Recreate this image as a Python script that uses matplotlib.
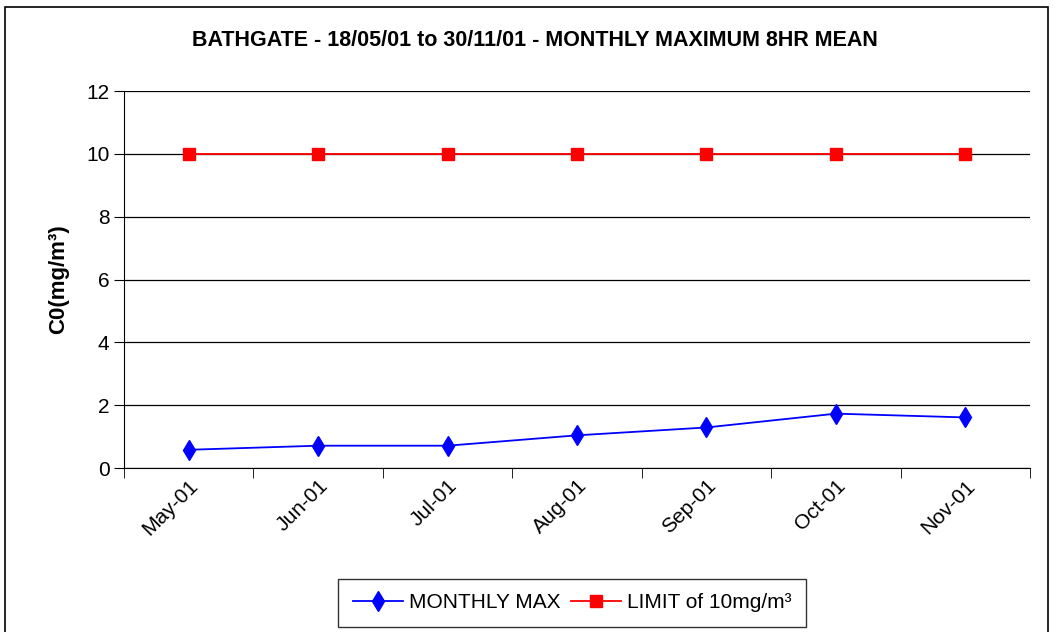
import numpy as np
import matplotlib.pyplot as plt
from matplotlib.patches import Rectangle

plt.rcParams['font.family'] = ['Liberation Sans', 'DejaVu Sans']

months = ["May-01", "Jun-01", "Jul-01", "Aug-01", "Sep-01", "Oct-01", "Nov-01"]
monthly_max = [0.58, 0.71, 0.71, 1.04, 1.29, 1.73, 1.61]
limit = [10, 10, 10, 10, 10, 10, 10]

fig = plt.figure(figsize=(10.54, 6.32), dpi=100)
fig.patches.append(Rectangle((5/1054, -0.01), 1043/1054, 1 - 7/632 + 0.01,
                             transform=fig.transFigure, fill=False,
                             edgecolor='black', linewidth=1.2))
ax = fig.add_axes([124/1054, (632-468)/632, (1030-124)/1054, (468-91)/632])

x = np.arange(len(months))
ax.plot(x, monthly_max, color='#0000ff', marker='d', markersize=10, linewidth=1.3,
        label='MONTHLY MAX')
ax.plot(x, limit, color='#ff0000', marker='s', markersize=8, linewidth=1.3,
        label='LIMIT of 10mg/m³')

ax.set_xlim(-0.5, len(months) - 0.5)
ax.set_ylim(0, 12)
ax.set_yticks(range(0, 13, 2))
ax.set_xticks(x)
ax.set_xticklabels(months, rotation=45, ha='right', rotation_mode='anchor', fontsize=15)
ax.tick_params(axis='x', length=0, pad=6)
ax.set_xticks(np.arange(-0.5, len(months), 1), minor=True)
ax.tick_params(axis='x', which='minor', length=7, color='black')
ax.tick_params(axis='y', labelsize=15, length=7, color='black')
ax.grid(axis='y', color='black', linewidth=0.9)
ax.set_axisbelow(True)
for s in ['top', 'right']:
    ax.spines[s].set_visible(False)
ax.spines['left'].set_color('black')
ax.spines['bottom'].set_color('black')

ax.set_ylabel('C0(mg/m³)', fontsize=16, fontweight='bold', labelpad=12)
fig.text(535/1054, 1 - 40/632, 'BATHGATE - 18/05/01 to 30/11/01 - MONTHLY MAXIMUM 8HR MEAN',
         ha='center', va='center', fontsize=15.5, fontweight='bold')

leg = fig.legend(loc='center', bbox_to_anchor=(572/1054, 1 - 603/632), ncol=2,
                 fontsize=15, frameon=True, fancybox=False, edgecolor='black',
                 handlelength=2.4, columnspacing=0.5, handletextpad=0.3,
                 borderpad=0.7)
leg.get_frame().set_linewidth(1.0)

fig.savefig('out.png', dpi=100)
